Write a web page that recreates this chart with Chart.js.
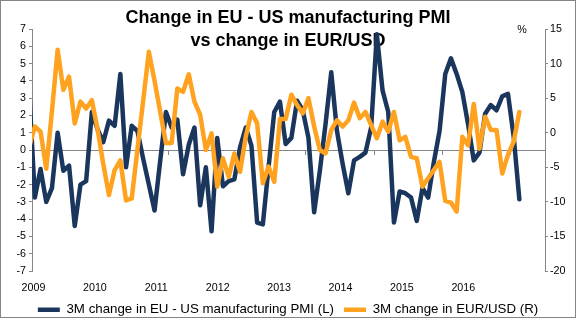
<!DOCTYPE html>
<html>
<head>
<meta charset="utf-8">
<script src="https://cdn.jsdelivr.net/npm/chart.js@4.4.0/dist/chart.umd.min.js"></script>
<style>
    html, body { margin: 0; padding: 0; background: #fff; }
    #box { position: absolute; left: 0; top: 0; width: 574px; height: 316px; border: 1px solid #858585; }
    canvas { display: block; }
</style>
</head>
<body>
<div id="box"><canvas id="myChart" width="574" height="316"></canvas></div>
<script>
// monthly, Jan 2009 .. Mar 2016
const pmiChange = [
    3.5, -2.75, -1.1, -3.0, -2.2, 1.0, -1.2, -0.9, -4.4, -2.0, -1.8, 2.2,
    1.2, 0.45, 1.7, 1.4, 4.4, -1.0, 1.4, 1.1, -0.5, -2.0, -3.5, -0.6,
    2.2, 1.3, 1.75, -1.4, 0.3, 1.3, -3.2, -1.0, -4.7, 0.7, -2.1, -1.8,
    -1.7, 0.15, 1.3, 0.25, -4.2, -4.3, -1.0, 2.2, 2.8, 0.35, 0.7, 2.85,
    2.3, 0.7, -3.6, -1.2, 1.5, 4.5, 1.1, -0.8, -2.5, -0.6, -0.4, -0.15,
    1.3, 6.7, 3.45, 2.2, -4.2, -2.4, -2.5, -2.75, -4.1, -2.2, -2.75, -0.7,
    1.1, 4.4, 5.3, 4.4, 3.35, 1.5, -0.6, -0.15, 2.1, 2.6, 2.3, 3.1,
    3.25, 0.8, -2.85
];
const eurusdChange = [
    -2.1, 0.9, 0.15, -5.2, 3.1, 12.0, 6.2, 8.1, 1.35, 4.5, 3.5, 4.7,
    0.5, -4.5, -9.0, -5.4, -4.0, -9.8, -9.5, -2.4, 4.6, 11.7, 7.5, 3.0,
    -1.5, -1.5, 6.4, 5.9, 8.45, 4.5, 2.6, -2.5, -0.1, -7.8, -3.7, -6.4,
    -3.0, -5.65, -0.6, 3.0, 1.35, -7.3, -4.9, -7.1, 2.0, 2.0, 5.5, 4.0,
    2.8, 5.0, 0.9, -2.5, -3.0, 0.4, 1.8, 0.9, 1.8, 4.35, 2.1, 3.0,
    1.1, -0.8, 1.6, 0.15, 3.0, -1.1, -0.6, -3.5, -3.7, -7.8, -6.6, -5.4,
    -4.2, -9.85, -10.1, -11.4, -0.6, -1.8, 4.15, -2.3, 2.3, 0.4, 0.4, -5.9,
    -3.2, -1.3, 3.0
];
const yearLabels = ['2009', '2010', '2011', '2012', '2013', '2014', '2015', '2016'];
const yearTickPos = [0.5, 12.5, 24.5, 36.5, 48.5, 60.5, 72.5, 84.5];
const titleLines = ['Change in EU - US manufacturing PMI', 'vs change in EUR/USD'];
const seriesNames = ['3M change in EU - US manufacturing PMI (L)', '3M change in EUR/USD (R)'];

const blue = '#1b365d';
const orange = '#ffa21f';
const axisGrey = '#868686';
const fontFamily = '"Liberation Sans", Arial, sans-serif';

Chart.defaults.font.family = fontFamily;
Chart.defaults.color = '#000';

// small "%" marker above the right axis
const percentLabel = {
    id: 'percentLabel',
    afterDraw(chart) {
        const c = chart.ctx;
        const y = chart.scales.y2.getPixelForValue(15);
        c.save();
        c.font = '10.7px ' + fontFamily;
        c.fillStyle = '#000';
        c.textAlign = 'center';
        c.textBaseline = 'middle';
        c.fillText('%', chart.chartArea.right - 23, y + 1);
        c.restore();
    }
};

const ctx = document.querySelector('#myChart').getContext('2d');
const myChart = new Chart(ctx, {
    type: 'line',
    data: {
        datasets: [{
            label: seriesNames[0],
            data: pmiChange.map((v, i) => ({ x: i, y: v })),
            borderColor: blue,
            backgroundColor: blue,
            borderWidth: 4.5,
            yAxisID: 'y',
            order: 1
        },
        {
            label: seriesNames[1],
            data: eurusdChange.map((v, i) => ({ x: i, y: v })),
            borderColor: orange,
            backgroundColor: orange,
            borderWidth: 4.5,
            yAxisID: 'y2',
            order: 0
        }]
    },
    options: {
        responsive: false,
        animation: false,
        devicePixelRatio: 1,
        layout: { padding: { left: 0, right: 0, top: 0, bottom: -9.3 } },
        elements: {
            point: { radius: 0 },
            line: { tension: 0, borderJoinStyle: 'round', borderCapStyle: 'round' }
        },
        clip: { left: 0, top: 3, right: 0, bottom: 3 },
        scales: {
            x: {
                type: 'linear',
                position: { y: 0 },
                min: 0.5,
                max: 90.5,
                afterBuildTicks: s => { s.ticks = yearTickPos.map(v => ({ value: v })); },
                ticks: { display: false },
                grid: { display: true, drawOnChartArea: false, drawTicks: true, tickLength: 4, color: axisGrey },
                border: { display: true, color: axisGrey, width: 1 }
            },
            xl: {
                type: 'linear',
                position: 'bottom',
                min: -0.0244,
                max: 8.331,
                afterBuildTicks: s => { s.ticks = yearLabels.map((t, k) => ({ value: k })); },
                ticks: {
                    callback: (v, k) => yearLabels[k],
                    autoSkip: false,
                    maxRotation: 0,
                    padding: 10.5,
                    font: { size: 10.7 }
                },
                grid: { display: false, drawTicks: false },
                border: { display: false },
                afterFit: s => { s.height = 22; }
            },
            y: {
                position: 'left',
                min: -7,
                max: 7,
                ticks: { stepSize: 1, padding: 3, font: { size: 10.7 } },
                grid: { display: true, drawOnChartArea: false, drawTicks: true, tickLength: 3, color: axisGrey },
                border: { color: axisGrey },
                afterFit: s => { s.width = 31; }
            },
            y2: {
                position: 'right',
                min: -20,
                max: 15,
                ticks: { stepSize: 5, padding: 2, font: { size: 10.7 } },
                grid: { display: true, drawOnChartArea: false, drawTicks: true, tickLength: 3, color: axisGrey },
                border: { color: axisGrey },
                afterFit: s => { s.width = 30; }
            }
        },
        plugins: {
            title: {
                display: true,
                text: titleLines,
                color: '#000',
                font: { size: 18, weight: 'bold', lineHeight: '23px' },
                padding: { top: 5.5, bottom: -23.5 }
            },
            legend: {
                position: 'bottom',
                labels: {
                    usePointStyle: true,
                    pointStyle: 'line',
                    pointStyleWidth: 22,
                    padding: 10,
                    color: '#000',
                    font: { size: 13.3 },
                    sort: (a, b) => a.datasetIndex - b.datasetIndex
                }
            },
            tooltip: { enabled: false }
        }
    },
    plugins: [percentLabel]
});
</script>
</body>
</html>
